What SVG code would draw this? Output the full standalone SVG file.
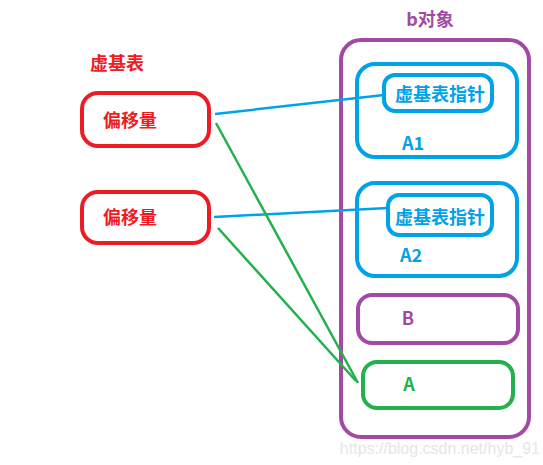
<svg xmlns="http://www.w3.org/2000/svg" width="543" height="465" viewBox="0 0 543 465">
<style>
text{font-family:"Noto Sans CJK SC","Liberation Sans",sans-serif;font-weight:bold;font-size:18px;dominant-baseline:central}
.r{fill:#ed1c24}.b{fill:#00a2e8}.p{fill:#a349a4}.g{fill:#22b14c}
rect{fill:none;stroke-width:4}
.rs{stroke:#ed1c24}.bs{stroke:#00a2e8}.ps{stroke:#a349a4}.gs{stroke:#22b14c}
line{stroke-width:2.5}
</style>
<rect width="543" height="465" fill="#fff" stroke="none"/>
<g id="label-vbt"><text x="90" y="62" class="r">虚基表</text></g>
<g id="offset1"><rect x="82" y="93" width="127" height="53" rx="16" class="rs"/><text x="103" y="119" class="r">偏移量</text></g>
<g id="offset2"><rect x="82" y="192" width="127" height="51" rx="16" class="rs"/><text x="103" y="216" class="r">偏移量</text></g>
<g id="bobj"><text x="430" y="18" class="p" text-anchor="middle">b对象</text><rect x="341" y="40" width="188" height="397" rx="20" class="ps"/></g>
<g id="A1"><rect x="357" y="64" width="160" height="93" rx="18" class="bs"/><text x="402" y="142" class="b">A1</text></g>
<g id="vbptr1"><rect x="384" y="75" width="108" height="36" rx="11" class="bs"/><text x="440" y="93" class="b" text-anchor="middle">虚基表指针</text></g>
<g id="A2"><rect x="357" y="183" width="160" height="93" rx="18" class="bs"/><text x="400" y="254" class="b">A2</text></g>
<g id="vbptr2"><rect x="388" y="195" width="104" height="40" rx="11" class="bs"/><text x="440" y="216" class="b" text-anchor="middle">虚基表指针</text></g>
<g id="B"><rect x="358" y="295" width="160" height="48" rx="14" class="ps"/><text x="408" y="317" class="p" text-anchor="middle">B</text></g>
<g id="A"><rect x="363" y="362" width="150" height="46" rx="14" class="gs"/><text x="409" y="383" class="g" text-anchor="middle">A</text></g>
<g id="connectors">
<line x1="215" y1="114" x2="384" y2="95" stroke="#00a2e8"/>
<line x1="214" y1="217" x2="388" y2="208" stroke="#00a2e8"/>
<line x1="216" y1="123" x2="358" y2="383" stroke="#22b14c"/>
<line x1="218" y1="228" x2="356" y2="381" stroke="#22b14c"/>
</g>
<text x="540" y="448" text-anchor="end" style="font-family:'Liberation Sans',sans-serif;font-weight:normal;font-size:16px;fill:#e6e6e6">https://blog.csdn.net/hyb_91</text>
</svg>
